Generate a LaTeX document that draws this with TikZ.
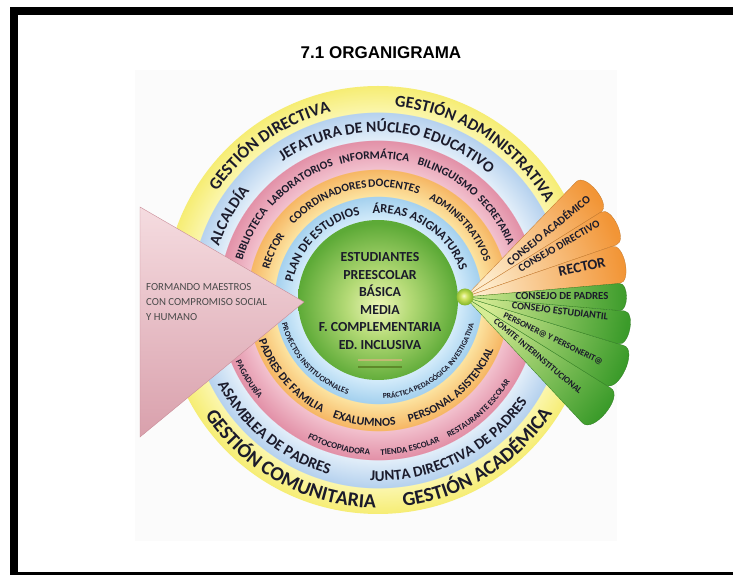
\documentclass[tikz,border=0pt]{standalone}
\usepackage{fontspec}
\setmainfont{Carlito}
\newfontfamily\titlefont{Liberation Sans}
\usetikzlibrary{decorations.text,calc}

\definecolor{txt}{HTML}{1B1B2B}
\definecolor{ibA}{HTML}{D3EBFA}
\definecolor{ibB}{HTML}{A3D0EE}
\definecolor{orA}{HTML}{FCE3A0}
\definecolor{orB}{HTML}{F6B663}
\definecolor{pkA}{HTML}{F2C1CE}
\definecolor{pkB}{HTML}{E290A7}
\definecolor{blA}{HTML}{E2EEF9}
\definecolor{blB}{HTML}{B5D1EE}
\definecolor{yeA}{HTML}{FBF6AC}
\definecolor{yeB}{HTML}{F6ED74}
\definecolor{gnA}{HTML}{EEF6B8}
\definecolor{gnB}{HTML}{B4DA76}
\definecolor{gnC}{HTML}{5DAA37}
\definecolor{bA}{HTML}{F6FAC8}
\definecolor{bB}{HTML}{CFE35E}
\definecolor{bC}{HTML}{86B82C}
\definecolor{orIn}{HTML}{FDEBCB}
\definecolor{orOut}{HTML}{F29536}
\definecolor{gnIn}{HTML}{D6EC94}
\definecolor{gnOut}{HTML}{3B9B2A}
\definecolor{triA}{HTML}{F5DCE0}
\definecolor{triB}{HTML}{D9A0AC}
\definecolor{triE}{HTML}{C98C98}
\definecolor{motto}{HTML}{4A4A4A}
\definecolor{lineTan}{HTML}{C2B874}
\definecolor{lineGreen}{HTML}{5E8A2A}
\definecolor{paper}{HTML}{FBFBFB}

\pgfdeclareradialshading{ringsh}{\pgfpoint{0bp}{0bp}}{%
 color(0bp)=(ibA); color(9.36bp)=(ibA);
 color(12.14bp)=(ibB); color(12.16bp)=(orA);
 color(15.29bp)=(orB); color(15.31bp)=(pkA);
 color(18.68bp)=(pkB); color(18.70bp)=(blA);
 color(21.95bp)=(blB); color(21.97bp)=(yeA);
 color(25bp)=(yeB); color(50bp)=(yeB)}
\pgfdeclareradialshading{greensh}{\pgfpoint{0bp}{-2bp}}{%
 color(0bp)=(gnA); color(10bp)=(gnB); color(25bp)=(gnC); color(50bp)=(gnC)}
\pgfdeclareradialshading{ballsh}{\pgfpoint{-4bp}{4bp}}{%
 color(0bp)=(bA); color(10bp)=(bB); color(25bp)=(bC); color(50bp)=(bC)}

\newcommand\ringtop[5]{%
  \pgfmathsetmacro\rsa{#2+70}\pgfmathsetmacro\rea{#2-70}%
  \path[decorate,decoration={text along path,text align=center,
    text={|\fontsize{#3}{#3}\selectfont\bfseries\color{txt}|#4}}]
    ([shift={(\rsa:#1)}]C) arc[start angle=\rsa,end angle=\rea,radius=#1];#5}
\newcommand\ringbot[5]{%
  \pgfmathsetmacro\rsa{#2-70}\pgfmathsetmacro\rea{#2+70}%
  \path[decorate,decoration={text along path,text align=center,
    text={|\fontsize{#3}{#3}\selectfont\bfseries\color{txt}|#4}}]
    ([shift={(\rsa:#1)}]C) arc[start angle=\rsa,end angle=\rea,radius=#1];#5}
\newcommand\fanpetal[5]{%
  \pgfmathsetmacro\pmid{(#1+#2)/2-90}%
  \shade[top color=#5, bottom color=#4, shading angle=\pmid,
    draw=#5!80!black, line width=0.3pt]
    (A) -- ([shift={(#1:#3)}]A) to[out=#1,in=#2,looseness=0.9]
    ([shift={(#2:#3)}]A) -- cycle;}

\tikzset{
  ptxt/.style={font=\bfseries\fontsize{#1}{#1}\selectfont, text=txt, inner sep=0pt},
}

\begin{document}
\begin{tikzpicture}[x=1pt,y=1pt]
\useasboundingbox (0,0) rectangle (733,575);
\fill[white] (0,0) rectangle (733,575);
\fill[paper] (135,34) rectangle (617,505);

\coordinate (C) at (378,275);
\coordinate (A) at (465,278);

% rings
\shade[shading=ringsh] (C) circle[radius=214];

% yellow ring
\ringtop{194}{125}{17}{GESTIÓN DIRECTIVA}{}
\ringtop{194}{57.5}{16.5}{GESTIÓN ADMINISTRATIVA}{}
\ringbot{208}{241.5}{20}{GESTIÓN COMUNITARIA}{}
\ringbot{208}{302}{20}{GESTIÓN ACADÉMICA}{}
% outer blue ring
\ringtop{168}{86.5}{15.5}{JEFATURA DE NÚCLEO EDUCATIVO}{}
\ringtop{168}{150.5}{15.5}{ALCALDÍA}{}
\ringbot{181}{231}{15.5}{ASAMBLEA DE PADRES}{}
\ringbot{181}{296.6}{15}{JUNTA DIRECTIVA DE PADRES}{}
% pink ring
\ringtop{141}{152.5}{11.5}{BIBLIOTECA}{}
\ringtop{141}{123.5}{11.3}{LABORATORIOS}{}
\ringtop{141}{91.5}{11.5}{INFORMÁTICA}{}
\ringtop{141}{60.5}{11.5}{BILINGUISMO}{}
\ringtop{141}{34}{11}{SECRETARIA}{}
\ringbot{155}{211.5}{8.6}{PAGADURÍA}{}
\ringbot{155}{255}{8.8}{FOTOCOPIADORA}{}
\ringbot{155}{282.3}{8.6}{TIENDA ESCOLAR}{}
\ringbot{155}{312.8}{8.4}{RESTAURANTE ESCOLAR}{}
% orange ring
\ringtop{113}{155}{11.3}{RECTOR}{}
\ringtop{113}{117}{11.3}{COORDINADORES}{}
\ringtop{113}{82}{11.5}{DOCENTES}{}
\ringtop{113}{41.5}{10.8}{ADMINISTRATIVOS}{}
\ringbot{126}{221}{11.8}{PADRES DE FAMILIA}{}
\ringbot{126}{263.5}{12}{EXALUMNOS}{}
\ringbot{126}{310.5}{11.6}{PERSONAL ASISTENCIAL}{}
% inner blue ring
\ringtop{87}{135}{12.7}{PLAN DE ESTUDIOS}{}
\ringtop{87}{56.5}{12.5}{ÁREAS ASIGNATURAS}{}
\ringbot{99}{223}{8}{PROYECTOS INSTITUCIONALES}{}
\ringbot{99}{309.5}{7.6}{PRÁCTICA PEDAGÓGICA INVESTIGATIVA}{}

% green centre
\shade[shading=greensh] (C) circle[radius=80];
\node[align=center, font=\bfseries\fontsize{13.8}{17.6}\selectfont, text=txt, inner sep=0pt]
  (students) at (380,274)
  {ESTUDIANTES\\PREESCOLAR\\BÁSICA\\MEDIA\\F. COMPLEMENTARIA\\ED. INCLUSIVA};
\coordinate (l1a) at (358,215); \coordinate (l1b) at (402,215);
\coordinate (l2a) at (358,208); \coordinate (l2b) at (402,208);
\draw[line width=2pt, lineTan] (l1a) -- (l1b);
\draw[line width=2pt, lineGreen] (l2a) -- (l2b);

% pink triangle
\shade[top color=triA, bottom color=triB, draw=triE, line width=0.4pt]
  (140,368) -- (304,273) -- (140,138) -- cycle;
\node[anchor=west, align=left, font=\fontsize{10.8}{15}\selectfont, text=motto, inner sep=0pt]
  (mottotext) at (146,273) {FORMANDO MAESTROS\\CON COMPROMISO SOCIAL\\Y HUMANO};

% fan
\fanpetal{46}{32}{160}{orIn}{orOut}
\fanpetal{32}{19}{160}{orIn}{orOut}
\fanpetal{19}{5}{155}{orIn}{orOut}
\fanpetal{-32}{-47}{172}{gnIn}{gnOut}
\fanpetal{-17}{-32}{166}{gnIn}{gnOut}
\fanpetal{-5}{-17}{160}{gnIn}{gnOut}
\fanpetal{5}{-5}{155}{gnIn}{gnOut}

\node[ptxt=11.2, rotate=39] (cacad) at (548,345) {CONSEJO ACADÉMICO};
\node[ptxt=10.8, rotate=30] (cdir) at (559,329) {CONSEJO DIRECTIVO};
\node[ptxt=14.5, rotate=12] (frector) at (582,308) {RECTOR};
\node[ptxt=10.8] (cpad) at (562,278.5) {CONSEJO DE PADRES};
\node[ptxt=10.2, rotate=-7] (cest) at (560,264) {CONSEJO ESTUDIANTIL};
\node[ptxt=8.8, rotate=-26] (pers) at (553,236) {PERSONER@ Y PERSONERIT@};
\node[ptxt=9, rotate=-40] (comite) at (538,219) {COMITE INTERINSTITUCIONAL};

\shade[shading=ballsh] (A) circle[radius=8.5];

% title
\node[font=\titlefont\bfseries\fontsize{17}{17}\selectfont, inner sep=0pt] (title) at (381,522) {7.1 ORGANIGRAMA};

% frame
\fill[black] (10,0) rectangle (18,568);
\fill[black] (10,560) rectangle (733,568);
\fill[black] (10,0) rectangle (733,3);
\end{tikzpicture}
\end{document}
